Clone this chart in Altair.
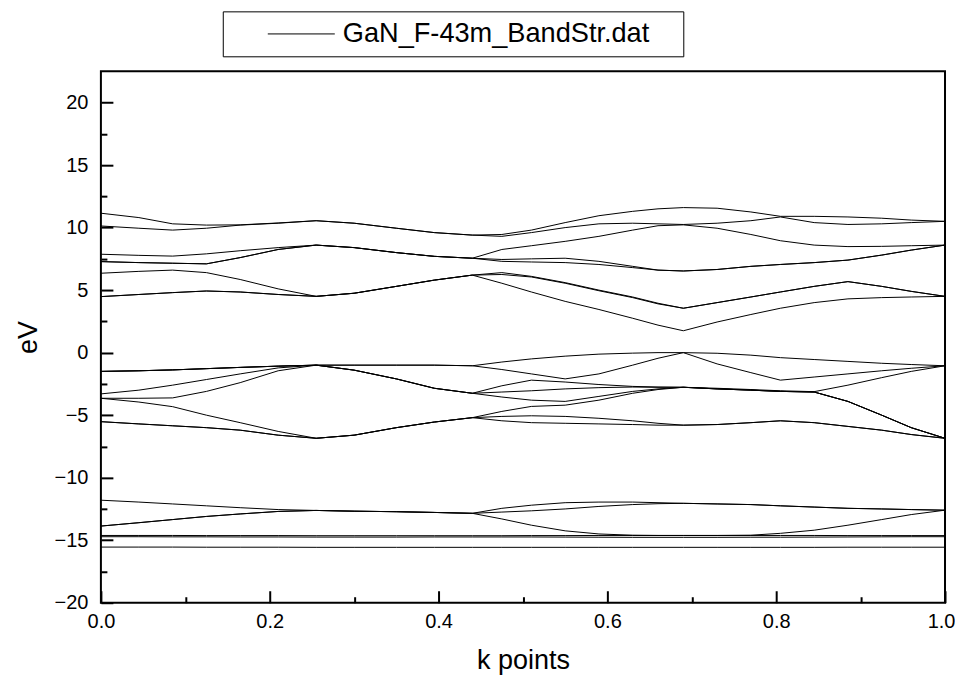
import altair as alt
import pandas as pd

# k-point grid (fraction of path)
K = [0.0, 0.045, 0.085, 0.125, 0.165, 0.21, 0.255, 0.30, 0.35, 0.395, 0.44,
     0.475, 0.51, 0.55, 0.59, 0.63, 0.66, 0.69, 0.73, 0.77, 0.805, 0.845,
     0.885, 0.925, 0.96, 1.0]

# conduction bands (eV)
c1 = [4.48, 4.65, 4.8, 4.93, 4.85, 4.65, 4.5, 4.75, 5.3, 5.8, 6.2,
      5.55, 4.85, 4.1, 3.45, 2.75, 2.2, 1.75, 2.45, 3.05, 3.55, 4.0, 4.3, 4.4, 4.45, 4.5]
c2 = [4.48, 4.65, 4.8, 4.93, 4.85, 4.65, 4.5, 4.75, 5.3, 5.8, 6.2,
      6.4, 6.1, 5.6, 5.0, 4.45, 3.95, 3.55, 4.0, 4.45, 4.85, 5.3, 5.68, 5.3, 4.9, 4.5]
c3 = [6.35, 6.5, 6.6, 6.4, 5.85, 5.1, 4.5, 4.75, 5.3, 5.8, 6.2,
      6.25, 6.05, 5.55, 4.95, 4.4, 3.9, 3.55, 4.0, 4.45, 4.85, 5.3, 5.68, 5.3, 4.9, 4.5]
c4 = [7.28, 7.2, 7.15, 7.1, 7.6, 8.25, 8.6, 8.4, 8.0, 7.7, 7.55,
      7.3, 7.25, 7.2, 7.05, 6.8, 6.6, 6.53, 6.65, 6.9, 7.05, 7.2, 7.4, 7.8, 8.2, 8.6]
c5 = [7.28, 7.2, 7.15, 7.1, 7.6, 8.25, 8.6, 8.4, 8.0, 7.7, 7.55,
      7.45, 7.5, 7.55, 7.3, 6.9, 6.6, 6.53, 6.65, 6.9, 7.05, 7.2, 7.4, 7.8, 8.2, 8.6]
c6 = [7.87, 7.78, 7.72, 7.9, 8.15, 8.4, 8.6, 8.4, 8.0, 7.7, 7.55,
      8.25, 8.55, 8.9, 9.3, 9.8, 10.15, 10.22, 9.95, 9.45, 8.95, 8.6, 8.48, 8.5, 8.55, 8.6]
c7 = [10.13, 9.95, 9.8, 9.95, 10.2, 10.35, 10.55, 10.35, 9.95, 9.6, 9.4,
      9.3, 9.6, 10.0, 10.3, 10.35, 10.3, 10.25, 10.35, 10.55, 10.85, 10.4, 10.25, 10.3, 10.4, 10.5]
c8 = [11.15, 10.8, 10.3, 10.2, 10.22, 10.37, 10.55, 10.35, 9.95, 9.6, 9.4,
      9.45, 9.8, 10.4, 10.95, 11.3, 11.5, 11.6, 11.55, 11.25, 10.9, 10.9, 10.85, 10.75, 10.6, 10.5]

# valence bands (eV)
v1 = [-1.5, -1.45, -1.38, -1.28, -1.18, -1.08, -1.0, -1.0, -1.0, -1.0, -1.05,
      -0.75, -0.5, -0.28, -0.12, -0.04, 0.0, 0.0, -0.05, -0.2, -0.4, -0.55, -0.7, -0.85, -0.95, -1.05]
v2 = [-1.5, -1.45, -1.38, -1.28, -1.18, -1.08, -1.0, -1.0, -1.0, -1.0, -1.05,
      -1.35, -1.7, -2.1, -1.7, -1.0, -0.45, 0.0, -0.9, -1.6, -2.2, -1.95, -1.7, -1.45, -1.25, -1.05]
v3 = [-3.3, -3.0, -2.6, -2.15, -1.7, -1.22, -1.0, -1.4, -2.1, -2.85, -3.25,
      -2.65, -2.2, -2.35, -2.55, -2.7, -2.75, -2.77, -2.85, -2.95, -3.05, -3.12, -2.6, -2.0, -1.5, -1.05]
v4 = [-3.65, -3.65, -3.62, -3.1, -2.4, -1.45, -1.0, -1.4, -2.1, -2.85, -3.25,
      -3.15, -3.05, -2.9, -2.8, -2.75, -2.77, -2.77, -2.9, -3.0, -3.1, -3.15, -3.9, -5.0, -6.0, -6.85]
v5 = [-1.5, -1.45, -1.38, -1.28, -1.18, -1.08, -1.0, -1.4, -2.1, -2.85, -3.25,
      -3.55, -3.8, -3.9, -3.5, -3.1, -2.9, -2.77, -2.9, -3.0, -3.1, -3.15, -3.9, -5.0, -6.0, -6.85]
v6 = [-3.65, -3.95, -4.32, -5.0, -5.6, -6.3, -6.85, -6.6, -6.0, -5.55, -5.2,
      -4.7, -4.3, -4.2, -3.8, -3.25, -2.95, -2.77, -2.9, -3.0, -3.1, -3.15, -3.9, -5.0, -6.0, -6.85]
v7 = [-5.52, -5.7, -5.85, -6.0, -6.2, -6.6, -6.85, -6.6, -6.0, -5.55, -5.2,
      -5.1, -5.05, -5.1, -5.25, -5.45, -5.65, -5.8, -5.75, -5.6, -5.45, -5.6, -5.9, -6.2, -6.55, -6.85]
v8 = [-5.52, -5.7, -5.85, -6.0, -6.2, -6.6, -6.85, -6.6, -6.0, -5.55, -5.2,
      -5.45, -5.6, -5.65, -5.7, -5.75, -5.8, -5.8, -5.75, -5.6, -5.45, -5.6, -5.9, -6.2, -6.55, -6.85]

# N 2s-like bands (eV)
s1 = [-11.8, -11.95, -12.1, -12.25, -12.4, -12.55, -12.62, -12.68, -12.72, -12.78, -12.85,
      -12.45, -12.2, -12.0, -11.95, -11.95, -12.0, -12.05, -12.1, -12.15, -12.25, -12.35, -12.45, -12.5, -12.55, -12.6]
s2 = [-13.87, -13.6, -13.35, -13.1, -12.9, -12.7, -12.62, -12.68, -12.72, -12.78, -12.85,
      -12.75, -12.65, -12.5, -12.3, -12.15, -12.08, -12.05, -12.1, -12.15, -12.25, -12.35, -12.45, -12.5, -12.55, -12.6]
s3 = [-13.87, -13.6, -13.35, -13.1, -12.9, -12.7, -12.62, -12.68, -12.72, -12.78, -12.85,
      -13.3, -13.8, -14.25, -14.5, -14.6, -14.62, -14.62, -14.62, -14.6, -14.45, -14.2, -13.8, -13.35, -12.95, -12.6]

# Ga 3d-like flat bands (eV)
d1 = [-14.62, -14.62, -14.62, -14.63, -14.63, -14.63, -14.64, -14.64, -14.64, -14.64, -14.64,
      -14.64, -14.63, -14.63, -14.62, -14.62, -14.62, -14.62, -14.62, -14.62, -14.62, -14.62, -14.63, -14.63, -14.63, -14.63]
d2 = [-14.72, -14.72, -14.73, -14.73, -14.74, -14.74, -14.75, -14.75, -14.75, -14.74, -14.74,
      -14.74, -14.74, -14.75, -14.76, -14.77, -14.77, -14.77, -14.77, -14.76, -14.76, -14.75, -14.74, -14.73, -14.72, -14.72]
d3 = [-15.55, -15.55, -15.55, -15.56, -15.56, -15.56, -15.57, -15.57, -15.57, -15.57, -15.57,
      -15.57, -15.57, -15.57, -15.57, -15.57, -15.57, -15.57, -15.57, -15.57, -15.57, -15.57, -15.56, -15.56, -15.56, -15.56]

bands = {"c1": c1, "c2": c2, "c3": c3, "c4": c4, "c5": c5, "c6": c6, "c7": c7, "c8": c8,
         "v1": v1, "v2": v2, "v3": v3, "v4": v4, "v5": v5, "v6": v6, "v7": v7, "v8": v8,
         "s1": s1, "s2": s2, "s3": s3, "d1": d1, "d2": d2, "d3": d3}

SERIES = "GaN_F-43m_BandStr.dat"
X_MAJOR = [0.0, 0.2, 0.4, 0.6, 0.8, 1.0]
X_MINOR = [0.1, 0.3, 0.5, 0.7, 0.9]
Y_MAJOR = [-20, -15, -10, -5, 0, 5, 10, 15, 20]
Y_MINOR = [-17.5, -12.5, -7.5, -2.5, 2.5, 7.5, 12.5, 17.5]

rows = []
for name, vals in bands.items():
    for k, e in zip(K, vals):
        rows.append({"k": k, "E": e, "band": name, "series": SERIES})
df = pd.DataFrame(rows)

W, H = 845, 532
FONT = "Liberation Sans"
xscale = alt.Scale(domain=[0, 1], nice=False, zero=False)
yscale = alt.Scale(domain=[-20, 22.5], nice=False, zero=False)

base = alt.Chart(df)

lines = base.mark_line(strokeWidth=1, clip=True).encode(
    x=alt.X("k:Q", scale=xscale,
            axis=alt.Axis(values=X_MAJOR, format=".1f", title="k points",
                          ticks=False, tickSize=0, domain=False, grid=False,
                          labelFlush=False,
                          labelOffset={"condition": {"test": "datum.value >= 1", "value": -4},
                                       "value": 0},
                          labelFont=FONT, labelFontSize=20,
                          labelColor="black", labelPadding=9, titleFont=FONT,
                          titleFontSize=27, titleFontWeight="normal",
                          titleColor="black", titlePadding=16)),
    y=alt.Y("E:Q", scale=yscale,
            axis=alt.Axis(values=Y_MAJOR, title="eV", ticks=False, tickSize=0,
                          domain=False, grid=False, labelFlush=False,
                          labelFont=FONT, labelFontSize=20, labelColor="black",
                          labelPadding=13, titleFont=FONT, titleFontSize=27,
                          titleFontWeight="normal", titleColor="black",
                          titlePadding=12)),
    detail="band:N",
    color=alt.Color("series:N", scale=alt.Scale(range=["black"]),
                    legend=alt.Legend(orient="none", legendX=122, legendY=-60,
                                      title=".", titleOrient="right",
                                      titleColor="white", titleFontSize=11,
                                      titlePadding=21,
                                      symbolType="M-5,0L5,0",
                                      symbolSize=180, symbolStrokeWidth=1,
                                      symbolOffset=56, labelOffset=28,
                                      labelLimit=1000,
                                      labelFont=FONT, labelFontSize=27.2,
                                      labelColor="black", strokeColor="black",
                                      padding=9)),
)


def x_ticks(values, size):
    return base.mark_point(opacity=0).encode(
        x=alt.X("k:Q", scale=xscale,
                axis=alt.Axis(orient="top", offset=-H, values=values,
                              tickSize=size, tickWidth=2, tickColor="black",
                              labels=False, domain=False, grid=False, title=None)),
        y=alt.Y("E:Q", scale=yscale, axis=None),
    )


def y_ticks(values, size):
    return base.mark_point(opacity=0).encode(
        x=alt.X("k:Q", scale=xscale, axis=None),
        y=alt.Y("E:Q", scale=yscale,
                axis=alt.Axis(orient="right", offset=-W, values=values,
                              tickSize=size, tickWidth=2, tickColor="black",
                              labels=False, domain=False, grid=False, title=None)),
    )


chart = alt.layer(
    lines,
    x_ticks(X_MAJOR, 12),
    x_ticks(X_MINOR, 6),
    y_ticks(Y_MAJOR, 12),
    y_ticks(Y_MINOR, 6),
).resolve_axis(x="independent", y="independent").properties(
    width=W, height=H,
    autosize=alt.AutoSizeParams(type="none"),
    padding={"left": 93, "top": 63, "right": 10, "bottom": 80},
    background="white",
).configure_view(stroke="black", strokeWidth=2)

chart.save("out.html", embed_options={"renderer": "svg", "actions": False})
